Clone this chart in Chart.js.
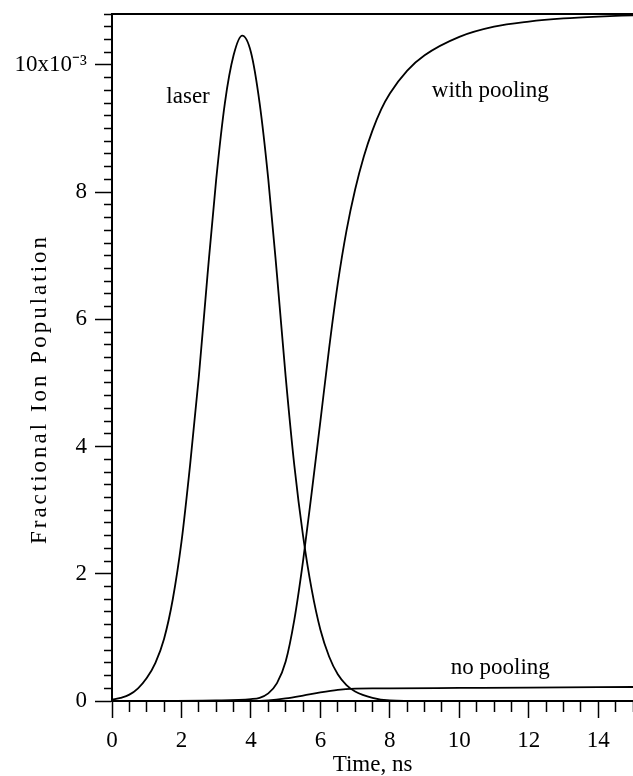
<!DOCTYPE html>
<html>
<head>
<meta charset="utf-8">
<script src="https://cdn.jsdelivr.net/npm/chart.js@4"></script>
<style>
  html, body { margin: 0; padding: 0; background: #fff; }
  #wrap { width: 633px; height: 776px; }
</style>
</head>
<body>
<div id="wrap"><canvas id="ionChart"></canvas></div>
<script>
// time in ns, population in units of 1e-3
const laserTime = [0, 0.25, 0.5, 0.75, 1.0, 1.25, 1.5, 1.75, 2.0, 2.25, 2.5, 2.75, 3.0, 3.25, 3.5, 3.75, 4.0, 4.25, 4.5, 4.75, 5.0, 5.25, 5.5, 5.75, 6.0, 6.25, 6.5, 6.75, 7.0, 7.5, 8.0, 9.0, 15];
const laserPop  = [0.02, 0.05, 0.1, 0.2, 0.36, 0.6, 0.98, 1.6, 2.5, 3.72, 5.1, 6.7, 8.2, 9.4, 10.15, 10.46, 10.2, 9.4, 8.2, 6.7, 5.1, 3.7, 2.6, 1.75, 1.12, 0.7, 0.42, 0.25, 0.15, 0.05, 0.01, 0, 0];

const poolTime = [0, 3, 4, 4.25, 4.5, 4.75, 5.0, 5.25, 5.5, 5.75, 6.0, 6.25, 6.5, 6.75, 7.0, 7.25, 7.5, 7.75, 8.0, 8.5, 9.0, 10, 11, 12, 13, 14, 15];
const poolPop  = [0, 0.01, 0.03, 0.05, 0.12, 0.28, 0.62, 1.28, 2.2, 3.28, 4.4, 5.54, 6.56, 7.39, 8.04, 8.56, 8.97, 9.3, 9.55, 9.91, 10.15, 10.44, 10.6, 10.68, 10.73, 10.76, 10.78];

const noPoolTime = [0, 4, 4.5, 5.0, 5.5, 6.0, 6.5, 7.0, 7.5, 8, 10, 12, 15];
const noPoolPop  = [0, 0, 0.01, 0.04, 0.085, 0.135, 0.175, 0.195, 0.2, 0.2, 0.205, 0.21, 0.22];

const xMajor = [0, 2, 4, 6, 8, 10, 12, 14];
const xLabels = ['0', '2', '4', '6', '8', '10', '12', '14'];
const yMajor = [0, 2, 4, 6, 8, 10];
const yLabels = ['0', '2', '4', '6', '8', '10x10⁻³'];

const curveNames = ['laser', 'with pooling', 'no pooling'];
const nameX = [2.19, 10.89, 11.18];
const nameY = [9.5, 9.59, 0.52];

const serif = '"Liberation Serif", "Times New Roman", serif';

function pairs(xs, ys) {
    return xs.map((t, i) => ({x: t, y: ys[i]}));
}

function majorIndex(list, v) {
    return list.findIndex(m => Math.abs(m - v) < 1e-6);
}

const lineStyle = {
    borderColor: '#000',
    borderWidth: 1.8,
    pointRadius: 0,
    fill: false,
    cubicInterpolationMode: 'monotone'
};

// curve names and the rotated y title
const textPlugin = {
    id: 'curveText',
    afterDraw(chart) {
        const ctx = chart.ctx;
        const xs = chart.scales.x, ys = chart.scales.y;
        ctx.save();
        ctx.fillStyle = '#000';
        ctx.font = '23px ' + serif;
        ctx.textAlign = 'center';
        ctx.textBaseline = 'middle';
        curveNames.forEach((name, i) => {
            ctx.fillText(name, xs.getPixelForValue(nameX[i]), ys.getPixelForValue(nameY[i]));
        });
        ctx.translate(40, 389);
        ctx.rotate(-Math.PI / 2);
        ctx.letterSpacing = '3px';
        ctx.fillText('Fractional Ion Population', 0, 0);
        ctx.restore();
    }
};

const chart = new Chart(document.getElementById('ionChart'), {
    type: 'line',
    data: {
        datasets: [
            Object.assign({label: 'laser', data: pairs(laserTime, laserPop)}, lineStyle),
            Object.assign({label: 'with pooling', data: pairs(poolTime, poolPop)}, lineStyle),
            Object.assign({label: 'no pooling', data: pairs(noPoolTime, noPoolPop)}, lineStyle)
        ]
    },
    options: {
        responsive: true,
        maintainAspectRatio: false,
        animation: false,
        layout: {padding: {left: 0, top: 14, right: 0, bottom: 0}},
        plugins: {legend: {display: false}, tooltip: {enabled: false}},
        scales: {
            x: {
                type: 'linear',
                position: 'bottom',
                min: 0,
                max: 15,
                border: {display: true, color: '#000', width: 2},
                grid: {
                    display: true,
                    drawOnChartArea: false,
                    drawTicks: true,
                    tickLength: 17,
                    tickColor: '#000',
                    tickWidth: 1.5,
                    tickBorderDash: c => majorIndex(xMajor, c.tick.value) >= 0 ? [] : [10, 100]
                },
                ticks: {
                    stepSize: 0.5,
                    autoSkip: false,
                    maxRotation: 0,
                    padding: 11,
                    color: '#000',
                    font: {family: serif, size: 23, lineHeight: 1},
                    callback: v => {
                        const i = majorIndex(xMajor, v);
                        return i >= 0 ? xLabels[i] : '';
                    }
                },
                title: {
                    display: true,
                    text: 'Time, ns',
                    color: '#000',
                    padding: {top: 1, bottom: 0},
                    font: {family: serif, size: 23, lineHeight: 1}
                },
                afterFit: s => { s.height = 75; s.paddingLeft = 0; s.paddingRight = 0; }
            },
            xTop: {
                type: 'linear',
                position: 'top',
                min: 0,
                max: 15,
                border: {display: true, color: '#000', width: 2},
                grid: {display: false, drawTicks: false},
                ticks: {display: false}
            },
            y: {
                type: 'linear',
                min: 0,
                max: 10.8,
                border: {display: true, color: '#000', width: 2},
                grid: {
                    display: true,
                    drawOnChartArea: false,
                    drawTicks: true,
                    tickLength: 17,
                    tickColor: '#000',
                    tickWidth: 1.5,
                    tickBorderDash: c => majorIndex(yMajor, c.tick.value) >= 0 ? [] : [0, 9, 8, 100]
                },
                ticks: {
                    stepSize: 0.2,
                    autoSkip: false,
                    padding: 8,
                    color: '#000',
                    font: {family: serif, size: 23, lineHeight: 1},
                    callback: v => {
                        const i = majorIndex(yMajor, v);
                        return i >= 0 ? yLabels[i] : '';
                    }
                },
                afterFit: s => { s.width = 112; s.paddingTop = 0; s.paddingBottom = 0; }
            }
        }
    },
    plugins: [textPlugin]
});
</script>
</body>
</html>
